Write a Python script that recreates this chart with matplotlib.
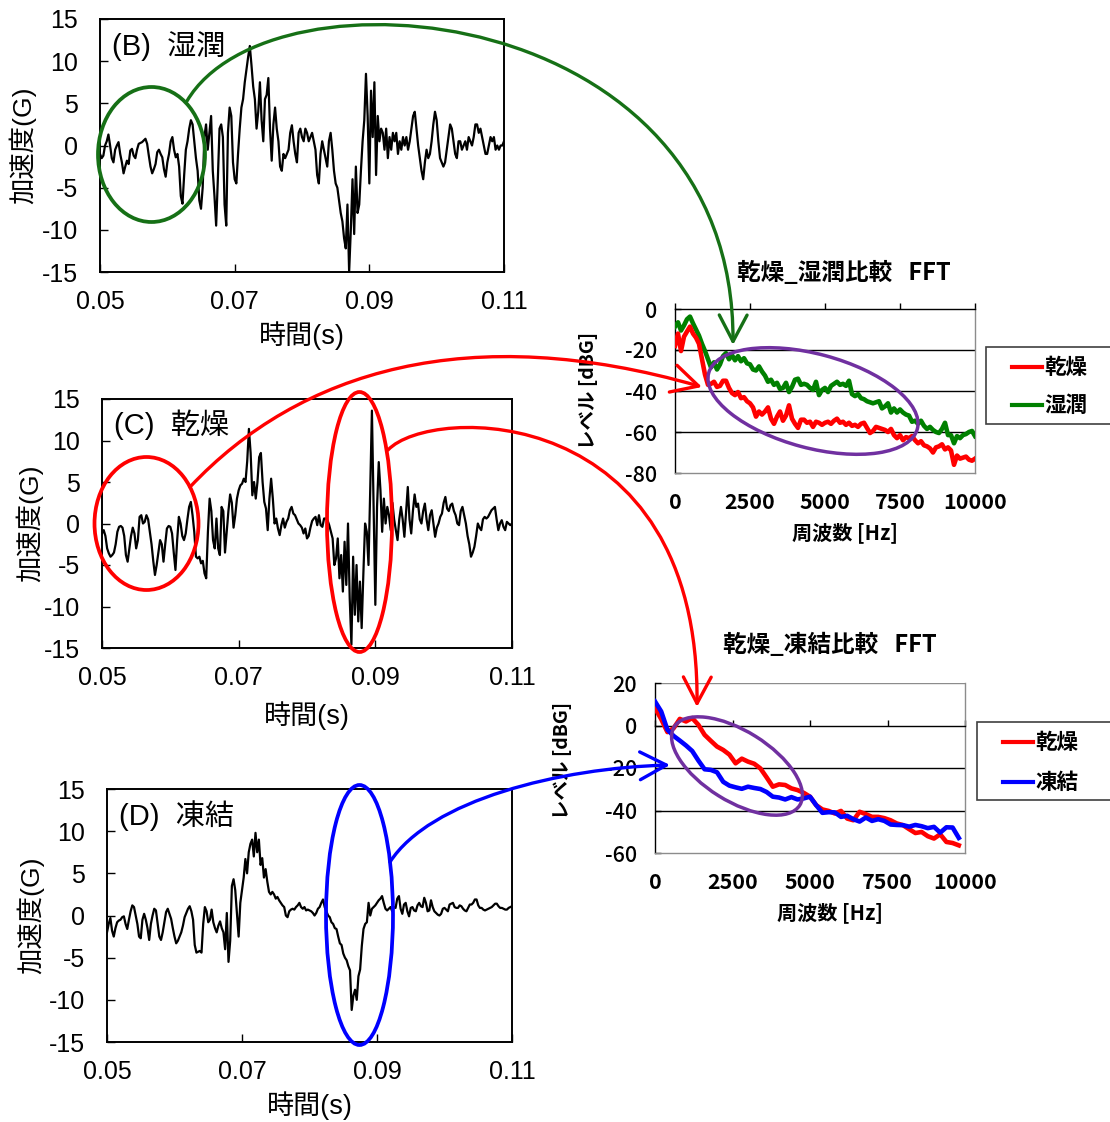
import numpy as np
import matplotlib
matplotlib.use("Agg")
import matplotlib.pyplot as plt
from matplotlib.patches import Ellipse, FancyArrowPatch, Rectangle
from matplotlib.path import Path
from matplotlib.lines import Line2D

plt.rcParams["font.family"] = ["Liberation Sans", "Noto Sans CJK JP"]
plt.rcParams["axes.unicode_minus"] = False

# ---------------- acceleration waveforms (G), sampled every 0.25 ms from 0.05 s ----------------
wave_wet = [
    -1.0, -1.5, -1.2, 0.0,   0.5, 1.3, 0.0, -1.5,   -2.0, -0.5, 0.0, 0.4,   -1.0, -2.0, -3.3, -2.5,
    -1.8, -2.2, -0.6, -0.4,  -1.2, -1.5, -0.5, 0.2,  0.3, 0.4, 0.6, 0.8,     0.2, -1.2, -2.5, -3.3,
    -2.8, -2.2, -0.8, -0.5,  -1.0, -1.4, -2.8, -3.7, -2.0, -1.0, 0.5, 1.0,   -0.5, -1.4, -1.0, -2.5,
    -6.0, -6.9, -3.5, -0.5,  0.5, 2.0, 3.0, 2.5,     0.5, -1.5, -3.0, -6.5,  -7.5, -5.0, 1.0, 2.5,
    -0.5, 1.5, 3.5, -3.0,    -6.0, -9.5, -4.0, 2.0,  2.5, 1.0, -7.0, -9.5,   1.5, 4.5, 3.5, -2.0,
    -4.0, -4.5, -1.0, 2.0,   4.5, 5.5, 7.5, 9.0,     10.5, 11.8, 9.5, 7.0,   5.5, 2.0, 4.0, 7.5,
    3.0, 0.5, 5.5, 6.0,      8.0, 2.0, -1.8, 2.5,    4.5, 2.0, 0.5, -2.5,    -3.0, -1.0, -1.5, -1.0,
    -0.5, 1.5, 2.4, 0.5,     -1.0, -2.0, 1.5, 2.0,   1.0, 0.5, 2.0, 1.5,     0.5, 1.0, 1.5, 0.5,
    -0.5, -3.5, -4.5, -1.0,  0.5, -0.5, -1.5, -2.5,  0.5, 1.5, -0.5, -3.0,   -4.5, -5.0, -6.5, -8.0,
    -9.0, -11.0, -12.2, -7.0, -15.0, -10.0, -4.0, -10.5, -2.5, -8.0, -7.0, -3.0, 0.5, 3.0, 8.5, 3.5,
    -4.5, 6.5, 1.0, 7.5,     -3.5, 3.5, 0.5, 2.0,    1.5, -0.5, 2.0, -1.5,   1.0, -0.5, 1.5, 0.5,
    1.5, -1.0, 0.5, -0.5,    1.0, 0.0, 1.0, -0.5,    0.5, 2.0, 3.5, 4.0,     2.0, 0.0, -1.5, -3.0,
    -4.0, -2.0, -0.5, -1.5,  -1.0, 0.5, 2.5, 4.0,    3.0, 0.5, -1.5, -2.0,   -2.5, -2.0, -0.5, 1.0,
    2.5, 2.0, 0.5, -1.0,     -1.5, 0.5, 0.5, -0.5,   0.0, 0.5, -0.5, 1.0,    0.5, 0.0, 1.0, 2.5,
    2.5, 1.5, 2.0, 1.0,      0.0, -1.0, -1.0, 0.0,   1.0, 0.5, 1.0, -0.5,    0.0, -0.5, 0.0, 0.0,
    0.5,
]

wave_dry = [
    -1.2, -0.8, -1.5, -3.0,  -3.6, -4.0, -3.8, -3.5, -2.5, -1.0, -0.4, -0.3, -0.5, -1.5, -3.8, -4.6,
    -3.0, -1.5, -0.5, -1.2,  -3.0, -2.0, 0.8, 1.0,   0.0, 0.2, 1.0, 0.5,     -1.0, -2.5, -4.5, -6.2,
    -5.0, -3.5, -2.0, -2.5,  -4.6, -2.5, -0.6, -0.3, -0.4, -1.2, -3.5, -5.6, -2.0, 0.8, 0.0, -1.5,
    -2.0, -1.2, 0.5, 2.0,    2.6, 1.0, -1.0, -4.0,   -4.2, -4.0, -4.8, -4.5, -6.0, -6.6, -1.0, 3.0,
    1.5, -2.0, -3.0, 0.6,    -3.0, -3.8, 2.0, 1.5,   -3.5, -1.0, 1.5, 3.5,   2.5, -0.5, 1.0, 3.0,
    4.0, 4.6, 4.8, 5.4,      5.0, 7.5, 11.4, 8.5,    3.4, 5.0, 3.0, 5.0,     8.0, 8.5, 5.0, 2.6,
    1.8, -0.8, 3.0, 5.4,     3.0, 0.0, 0.6, -0.6,    -1.4, -0.2, 0.6, -0.5,  0.2, 0.6, 1.6, 2.0,
    1.2, 1.0, 0.5, 0.0,      -0.2, -0.5, -1.2, -0.6, -1.8, -1.5, -0.5, 0.3,  0.6, 0.8, -0.2, 1.0,
    -0.2, -0.4, 0.6, 0.6,    0.4, -0.2, -1.0, -1.8,  -5.0, -4.2, -1.8, -6.6, -3.8, -8.2, -2.2, -7.4,
    0.0, -9.0, -14.6, -4.0,  -11.0, -5.0, -11.8, -7.0, -12.6, -6.0, 0.0, -1.0, -5.0, 4.0, 13.6, 2.0,
    -9.8, 2.0, 7.4, 4.0,     -1.0, 3.0, 0.0, 2.0,    1.0, -0.8, 2.5, 0.5,    -0.8, -2.0, 0.5, 2.0,
    0.5, -1.6, 1.5, 4.4,     0.5, -1.2, 1.5, 3.5,    2.0, 2.4, 0.5, 0.0,     1.5, 2.4, 0.5, -0.8,
    1.0, 1.6, 0.0, -1.6,     -0.5, 0.0, 0.8, 1.2,    2.5, 3.2, 1.8, 1.5,     2.2, 2.4, 1.5, 1.0,
    0.0, -0.2, 1.5, 2.0,     1.0, 0.0, -1.5, -2.5,   -4.0, -3.5, -2.8, -1.5, 0.0, -0.5, -0.8, 0.5,
    0.8, 0.6, 0.8, 1.2,      1.6, 1.8, 2.0, 0.5,     -0.8, 0.0, 0.4, -0.4,   -0.8, 0.2, 0.0, -0.2,
    0.0,
]

wave_frozen = [
    -2.0, -1.0, -0.3, -1.8,  -2.5, -1.5, -0.8, -0.6, -0.5, -0.2, -0.1, -1.0, -1.6, -0.5, 0.5, 1.2,
    1.0, 0.0, -1.0, -2.5,    -2.7, -0.5, 0.2, -0.5,  -1.5, -2.9, -1.0, 0.0,  0.8, 0.6, -1.0, -2.5,
    -2.9, -2.0, -0.8, 0.4,   0.8, 0.2, -0.4, -1.5,   -2.5, -3.3, -3.0, -2.5, -2.0, -1.2, -0.2, 0.3,
    0.8, 1.1, 0.5, -0.5,     -3.5, -4.4, -4.3, -4.2, -4.4, -1.0, 1.0, 0.5,   -0.8, -0.5, 0.7, -0.8,
    -1.5, -2.0, -1.2, -0.7,  -1.5, -2.0, -4.0, 0.3,  -5.5, -3.0, 3.5, 4.3,   3.0, 0.3, -2.5, 1.5,
    3.0, 4.5, 6.7, 5.0,      7.5, 8.5, 9.0, 7.0,     9.8, 7.5, 9.0, 6.0,     6.8, 4.5, 5.5, 4.0,
    2.8, 2.5, 2.8, 2.5,      2.0, 2.2, 1.8, 1.5,     1.2, 1.0, 0.0, -0.2,    0.5, 0.7, 0.8, 0.7,
    1.0, 1.2, 1.5, 1.0,      0.8, 1.0, 0.6, 0.7,     0.6, 0.5, 0.3, 0.0,     0.3, 0.8, 1.0, 1.5,
    1.9, 1.0, 0.5, 0.0,      -0.2, -0.8, -1.0, -1.5, -1.6, -2.5, -3.3, -3.5, -4.5, -5.0, -5.3, -6.0,
    -6.5, -11.2, -9.5, -8.8, -10.0, -7.2, -6.4, -3.6, -1.6, -1.0, -0.8, 1.5, 0.0, 0.8, 1.0, 1.2,
    1.5, 1.8, 2.0, 2.3,      1.5, 0.8, 0.6, 0.8,     1.0, 0.5, 1.0, 0.9,     2.0, 2.3, 0.8, 0.2,
    1.3, 1.5, 0.5, -0.1,     0.9, 1.0, 0.6, 0.5,     1.2, 1.5, 1.1, 1.0,     2.1, 1.5, 0.5, 0.6,
    1.8, 1.0, 0.5, 0.3,      0.1, 0.0, 0.2, 0.8,     0.9, 0.7, 0.5, 1.3,     1.4, 1.5, 1.0, 0.9,
    0.9, 1.2, 1.1, 0.8,      0.6, 0.5, 0.9, 1.3,     1.3, 1.5, 1.9, 1.9,     1.2, 0.9, 0.9, 0.7,
    0.6, 0.7, 0.8, 0.9,      1.0, 1.2, 1.4, 1.4,     1.1, 0.9, 0.9, 0.8,     0.7, 0.7, 0.9, 1.0,
    1.1,
]

# ---------------- FFT spectra (dBG) ----------------
freq_a = list(range(0, 10001, 100))
fft_a_dry = [
    -18.0, -12.0, -20.5, -13.5, -11.0, -8.6, -12.0, -14.0, -17.0, -24.5,
    -32.0, -37.0, -36.5, -35.5, -38.0, -37.5, -35.0, -35.0, -38.5, -41.0,
    -42.0, -40.5, -43.5, -43.0, -45.0, -46.0, -48.0, -52.5, -50.0, -51.5,
    -50.0, -48.0, -53.5, -56.0, -52.5, -50.0, -54.5, -52.0, -47.0, -53.5,
    -56.0, -58.0, -54.0, -54.0, -55.5, -55.0, -57.5, -55.0, -55.5, -56.5,
    -55.5, -55.0, -56.0, -54.5, -53.5, -55.5, -55.0, -56.5, -55.5, -57.0,
    -56.5, -57.5, -56.0, -55.5, -58.0, -60.5, -59.5, -57.5, -58.0, -58.5,
    -59.0, -60.0, -58.5, -61.5, -63.0, -61.5, -64.0, -62.5, -63.0, -62.0,
    -64.0, -65.5, -64.5, -66.5, -67.0, -68.0, -70.0, -67.5, -67.0, -66.0,
    -68.5, -67.5, -69.0, -76.0, -71.5, -73.0, -72.5, -72.0, -73.5, -74.0,
    -73.0,
]
fft_a_wet = [
    -8.6, -6.5, -10.5, -8.0, -5.0, -3.7, -7.0, -10.0, -13.0, -17.0,
    -20.5, -24.5, -28.5, -26.0, -29.5, -27.0, -23.0, -21.5, -24.5, -22.5,
    -25.0, -23.0, -25.5, -24.0, -26.5, -27.0, -29.5, -30.0, -28.0, -30.5,
    -32.5, -35.5, -34.5, -37.0, -36.0, -39.0, -38.5, -36.0, -40.5, -38.0,
    -34.5, -34.0, -37.0, -36.5, -37.0, -38.5, -39.5, -35.5, -42.0, -39.5,
    -38.5, -40.5, -37.5, -36.5, -35.5, -37.0, -36.5, -37.5, -35.0, -41.5,
    -42.5, -41.5, -43.5, -44.0, -45.0, -45.5, -46.0, -45.5, -45.0, -48.5,
    -47.5, -46.0, -50.5, -48.5, -50.5, -49.0, -50.5, -51.5, -52.0, -55.0,
    -54.5, -56.0, -54.5, -57.0, -58.5, -57.5, -59.0, -60.0, -60.5, -58.5,
    -55.5, -61.5, -61.5, -65.5, -62.0, -63.0, -61.5, -61.0, -60.0, -59.5,
    -62.0,
]

freq_b = list(range(0, 9801, 200))
fft_b_dry = [
    8.2, 3.0, -3.1, -1.3, 3.1, 1.9, 3.5, 0.3, -4.4, -7.2,
    -9.9, -11.5, -13.7, -17.8, -15.6, -17.0, -18.0, -20.2, -24.4, -28.8,
    -27.7, -28.0, -29.6, -30.4, -31.7, -33.5, -37.5, -39.5, -40.2, -41.4,
    -40.2, -43.8, -44.6, -40.6, -41.7, -43.0, -43.0, -43.6, -44.6, -46.1,
    -46.9, -48.8, -50.6, -50.1, -52.1, -53.2, -51.2, -54.8, -55.3, -56.4,
]
fft_b_frozen = [
    11.3, 6.6, -2.0, -4.9, -7.1, -9.4, -12.0, -16.5, -20.6, -20.9,
    -22.0, -26.5, -28.3, -29.1, -29.8, -28.8, -29.4, -29.9, -31.3, -33.5,
    -33.9, -34.8, -33.7, -34.8, -34.3, -33.5, -37.5, -41.1, -40.8, -40.9,
    -43.0, -42.5, -44.1, -45.2, -43.3, -44.9, -44.1, -44.9, -46.6, -46.8,
    -46.9, -47.6, -46.8, -47.4, -48.3, -47.7, -50.4, -47.9, -48.0, -52.9,
]

time_ticks = [0.05, 0.07, 0.09, 0.11]
accel_ticks = [-15, -10, -5, 0, 5, 10, 15]
freq_ticks = [0, 2500, 5000, 7500, 10000]

RED, GREEN, BLUE = "#ff0000", "#008000", "#0000ff"
DARK_GREEN, PURPLE = "#167016", "#7030a0"
CJK_BOLD = dict(family=["Noto Sans CJK JP"], fontweight="bold")

W, H = 1110, 1122
fig = plt.figure(figsize=(W / 100, H / 100), dpi=100)


def px_axes(l, t, r, b):
    return fig.add_axes([l / W, 1 - b / H, (r - l) / W, (b - t) / H])


def wave_panel(box, values, tag, ylab_x, xlab_y):
    ax = px_axes(*box)
    tt = np.linspace(0.05, 0.11, len(values))
    ax.plot(tt, values, color="black", lw=1.6)
    ax.set_xlim(0.05, 0.11)
    ax.set_ylim(-15, 15)
    ax.set_xticks(time_ticks)
    ax.set_xticklabels([f"{v:.2f}" for v in time_ticks])
    ax.set_yticks(accel_ticks)
    ax.tick_params(axis="both", direction="in", length=6, width=1.0, labelsize=18)
    ax.tick_params(axis="y", pad=16)
    ax.tick_params(axis="x", pad=13)
    for s in ax.spines.values():
        s.set_linewidth(1.4)
    ax.set_ylabel("加速度(G)", fontsize=19, va="center")
    ax.yaxis.set_label_coords(ylab_x, 0.5)
    ax.set_xlabel("時間(s)", fontsize=19.5, va="center")
    ax.xaxis.set_label_coords(0.5, xlab_y)
    ax.text(0.03, 0.895, tag, transform=ax.transAxes, fontsize=21, va="center", ha="left")
    return ax


ax_b = wave_panel((100, 19, 504, 272), wave_wet, "(B)  湿潤", -0.193, -0.25)
ax_c = wave_panel((102, 399, 512, 648), wave_dry, "(C)  乾燥", -0.176, -0.27)
ax_d = wave_panel((107, 789, 512, 1042), wave_frozen, "(D)  凍結", -0.19, -0.25)


def fft_panel(box, ylim, yticks, series, title, title_xy, ylab_xy, xlab_xy):
    ax = px_axes(*box)
    for f, v, c in series:
        ax.plot(f, v, color=c, lw=3.3, solid_joinstyle="round", zorder=3)
    ax.set_xlim(0, 10000)
    ax.set_ylim(*ylim)
    ax.set_yticks(yticks)
    ax.set_xticks(freq_ticks)
    for v in yticks:
        if ylim[0] < v < ylim[1] and v != 0:
            ax.axhline(v, color="black", lw=1.0, zorder=1)
    if ylim[1] > 0:
        ax.axhline(ylim[1], color="#8c8c8c", lw=1.0, zorder=1)
    ax.spines["top"].set_position(("data", 0))
    ax.spines["top"].set_color("black")
    ax.spines["left"].set_color("black")
    ax.spines["right"].set_color("#8c8c8c")
    ax.spines["bottom"].set_color("#8c8c8c")
    for s in ax.spines.values():
        s.set_linewidth(1.0)
    ax.xaxis.set_ticks_position("top")
    ax.tick_params(axis="x", direction="out", length=4, width=1.0,
                   labeltop=False, labelbottom=True, pad=10)
    ax.tick_params(axis="y", direction="in", length=4, width=1.0, pad=13)
    for lab in ax.get_xticklabels():
        lab.set_fontproperties(dict(family="Noto Sans CJK JP", weight="bold", size=15.5))
    for lab in ax.get_yticklabels():
        lab.set_fontproperties(dict(family="Noto Sans CJK JP", weight="medium", size=15.5))
    ax.text(*title_xy, title, transform=ax.transAxes, ha="center", va="center",
            fontsize=17, **CJK_BOLD)
    ax.text(*ylab_xy, "レベル [dBG]", transform=ax.transAxes, ha="center", va="center",
            rotation=90, fontsize=14, **CJK_BOLD)
    ax.text(*xlab_xy, "周波数 [Hz]", transform=ax.transAxes, ha="center", va="center",
            fontsize=14.5, **CJK_BOLD)
    return ax


ax_f1 = fft_panel((675, 309, 975, 473), (-80, 0), [0, -20, -40, -60, -80],
                  [(freq_a, fft_a_wet, GREEN), (freq_a, fft_a_dry, RED)],
                  "乾燥_湿潤比較   FFT", (0.563, 1.22), (-0.29, 0.506), (0.567, -0.366))
ax_f2 = fft_panel((655, 683, 965, 853), (-60, 20), [20, 0, -20, -40, -60],
                  [(freq_b, fft_b_dry, RED), (freq_b, fft_b_frozen, BLUE)],
                  "乾燥_凍結比較   FFT", (0.565, 1.224), (-0.297, 0.547), (0.565, -0.353))

# ---------------- overlay in pixel coordinates: legends, ellipses, arrows ----------------
ov = fig.add_axes([0, 0, 1, 1], zorder=10)
ov.set_xlim(0, W)
ov.set_ylim(H, 0)
ov.axis("off")
ov.patch.set_alpha(0)


def legend_box(x0, y0, w, h, entries):
    ov.add_patch(Rectangle((x0, y0), w, h, facecolor="white", edgecolor="#404040", lw=1.2))
    for (ly, label, color) in entries:
        ov.add_line(Line2D([x0 + 26, x0 + 56], [ly, ly], color=color, lw=3))
        ov.text(x0 + 58, ly, label, ha="left", va="center", fontsize=15.5, **CJK_BOLD)


legend_box(986, 347, 140, 77, [(367, "乾燥", RED), (405, "湿潤", GREEN)])
legend_box(977, 722, 150, 78, [(742, "乾燥", RED), (782, "凍結", BLUE)])


def ellipse(cx, cy, w, h, color, angle=0, lw=2.7):
    ov.add_patch(Ellipse((cx, cy), w, h, angle=angle, fill=False, edgecolor=color, lw=lw))


ellipse(151.5, 154.5, 107, 135, DARK_GREEN)
ellipse(146.5, 523.5, 104, 133, RED)
ellipse(359.5, 522, 65, 260, RED)
ellipse(359.5, 915, 67, 260, BLUE)
ellipse(813, 401, 216, 94, PURPLE, angle=15, lw=2.5)
ellipse(737, 766, 148, 70, PURPLE, angle=32, lw=2.5)


def curved_arrow(pts, color):
    path = Path(pts, [Path.MOVETO, Path.CURVE4, Path.CURVE4, Path.CURVE4])
    ov.add_patch(FancyArrowPatch(path=path, arrowstyle="->,head_length=19,head_width=10",
                                 mutation_scale=1, color=color, lw=2.4))


curved_arrow([(187, 101), (270, -40), (735, 0), (733, 345)], DARK_GREEN)
curved_arrow([(190, 487), (300, 370), (470, 320), (702, 387)], RED)
curved_arrow([(388, 450), (430, 405), (700, 400), (697, 707)], RED)
curved_arrow([(390, 862), (430, 800), (560, 768), (670, 765)], BLUE)

fig.savefig("out.png", dpi=100)
